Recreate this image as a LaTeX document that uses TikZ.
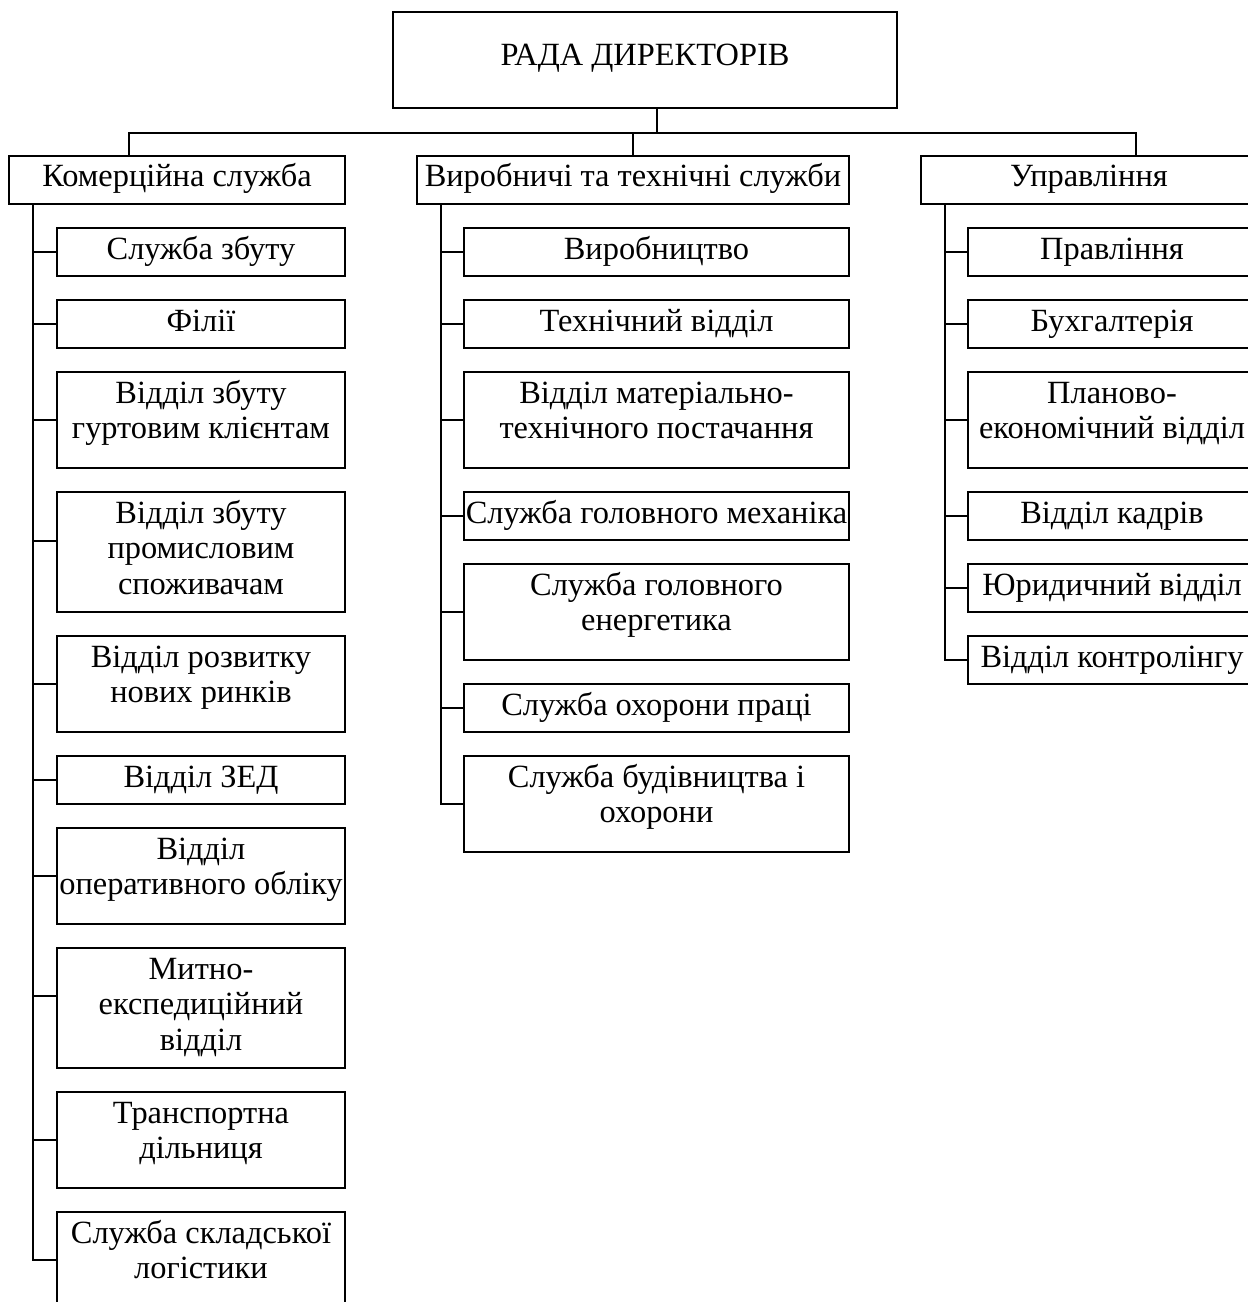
\documentclass[tikz,border=0pt]{standalone}
\usepackage{fontspec}
\setmainfont{Liberation Serif}
\newcommand\mkbox[7]{\node[box, minimum width=#4pt, minimum height=#5pt,
  label={[lbl, yshift=-#6pt]north:{#7}}] (#1) at (#2,#3) {};}
\begin{document}
\begin{tikzpicture}[x=1pt,y=-1pt,
  box/.style={draw, line width=2pt, rectangle, inner sep=0pt, outer sep=0pt, anchor=north west},
  lbl/.style={font=\fontsize{32.4}{35.5}\selectfont, align=center, inner sep=0pt, anchor=base},
  conn/.style={line width=2pt}]
\clip (0,0) rectangle (1248,1302);
% top
\mkbox{top}{393}{12}{504}{96}{53}{РАДА ДИРЕКТОРІВ}
% headers
\mkbox{h1}{9}{156}{336}{48}{30}{Комерційна служба}
\mkbox{h2}{417}{156}{432}{48}{30}{Виробничі та технічні служби}
\mkbox{h3}{921}{156}{336}{48}{30}{Управління}
% commercial
\mkbox{c1}{57}{228}{288}{48}{31}{Служба збуту}
\mkbox{c2}{57}{300}{288}{48}{31}{Філії}
\mkbox{c3}{57}{372}{288}{96}{66.5}{Відділ збуту\\гуртовим клієнтам}
\mkbox{c4}{57}{492}{288}{120}{102}{Відділ збуту\\промисловим\\споживачам}
\mkbox{c5}{57}{636}{288}{96}{66.5}{Відділ розвитку\\нових ринків}
\mkbox{c6}{57}{756}{288}{48}{31}{Відділ ЗЕД}
\mkbox{c7}{57}{828}{288}{96}{66.5}{Відділ\\оперативного обліку}
\mkbox{c8}{57}{948}{288}{120}{102}{Митно-\\експедиційний\\відділ}
\mkbox{c9}{57}{1092}{288}{96}{66.5}{Транспортна\\дільниця}
\mkbox{c10}{57}{1212}{288}{96}{66.5}{Служба складської\\логістики}
% production
\mkbox{p1}{464}{228}{385}{48}{31}{Виробництво}
\mkbox{p2}{464}{300}{385}{48}{31}{Технічний відділ}
\mkbox{p3}{464}{372}{385}{96}{66.5}{Відділ матеріально-\\технічного постачання}
\mkbox{p4}{464}{492}{385}{48}{31}{Служба головного механіка}
\mkbox{p5}{464}{564}{385}{96}{66.5}{Служба головного\\енергетика}
\mkbox{p6}{464}{684}{385}{48}{31}{Служба охорони праці}
\mkbox{p7}{464}{756}{385}{96}{66.5}{Служба будівництва і\\охорони}
% management
\mkbox{m1}{968}{228}{288}{48}{31}{Правління}
\mkbox{m2}{968}{300}{288}{48}{31}{Бухгалтерія}
\mkbox{m3}{968}{372}{288}{96}{66.5}{Планово-\\економічний відділ}
\mkbox{m4}{968}{492}{288}{48}{31}{Відділ кадрів}
\mkbox{m5}{968}{564}{288}{48}{31}{Юридичний відділ}
\mkbox{m6}{968}{636}{288}{48}{31}{Відділ контролінгу}
% bus
\coordinate (b1) at (129,133);
\coordinate (b2) at (633,133);
\coordinate (b3) at (1136,133);
\coordinate (tk) at (657,133);
\draw[conn] (top.south -| tk) -- (tk);
\draw[conn] (h1.north -| b1) -- (b1) -- (b3) -- (h3.north -| b3);
\draw[conn] (b2) -- (h2.north -| b2);
% spines
\coordinate (s1) at ([xshift=24pt]h1.south west);
\coordinate (s2) at ([xshift=24pt]h2.south west);
\coordinate (s3) at ([xshift=24pt]h3.south west);
\draw[conn] (s1) |- (c10.west);
\draw[conn] (s2) |- (p7.west);
\draw[conn] (s3) |- (m6.west);
\foreach \n in {c1,c2,c3,c5,c6,c7,c9}
  \draw[conn] (\n.west) -- (\n.west -| s1);
\foreach \n in {p1,p2,p3,p4,p5,p6}
  \draw[conn] (\n.west) -- (\n.west -| s2);
\foreach \n in {m1,m2,m3,m4,m5}
  \draw[conn] (\n.west) -- (\n.west -| s3);
\draw[conn] ([yshift=11pt]c4.west) -- ([yshift=11pt]c4.west -| s1);
\draw[conn] ([yshift=12pt]c8.west) -- ([yshift=12pt]c8.west -| s1);
\end{tikzpicture}
\end{document}
